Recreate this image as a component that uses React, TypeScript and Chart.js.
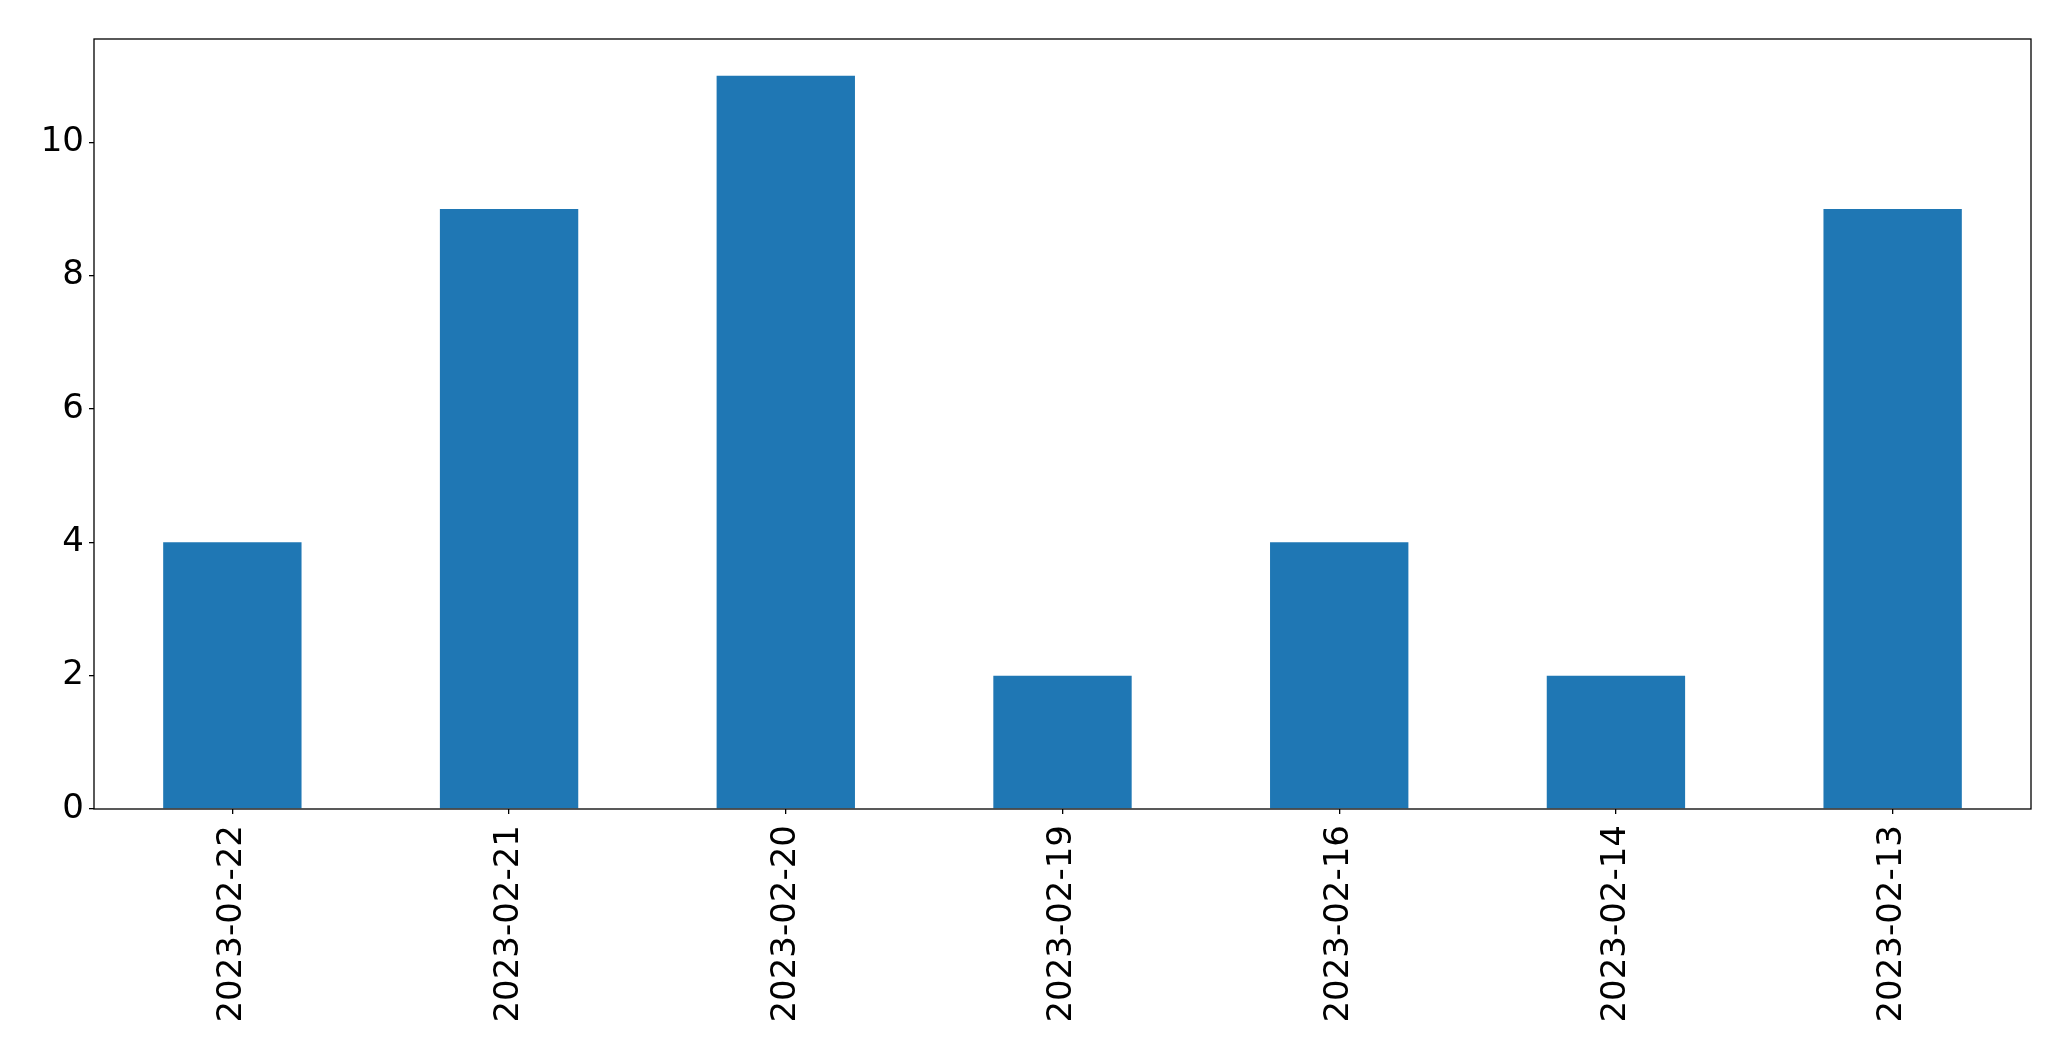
import React, { useEffect, useRef } from "react";
import { Chart, registerables } from "chart.js";

Chart.register(...registerables);

const categories = ["2023-02-22", "2023-02-21", "2023-02-20", "2023-02-19", "2023-02-16", "2023-02-14", "2023-02-13"];
const values = [4, 9, 11, 2, 4, 2, 9];
const yTicks = [0, 2, 4, 6, 8, 10];
const yMax = 11.55;

const W = 2071;
const H = 1061;

const framePlugin = {
  id: "frame",
  afterDraw(chart: any) {
    const { ctx, chartArea } = chart;
    ctx.save();
    ctx.strokeStyle = "#000";
    ctx.lineWidth = 1.3;
    ctx.strokeRect(chartArea.left, chartArea.top, chartArea.right - chartArea.left, chartArea.bottom - chartArea.top);
    ctx.restore();
  },
};

export default function App() {
  const ref = useRef<HTMLCanvasElement>(null);
  useEffect(() => {
    const font = { family: "'DejaVu Sans', sans-serif", size: 34 };
    const chart = new Chart(ref.current!, {
      type: "bar",
      data: {
        labels: categories,
        datasets: [
          {
            data: values,
            backgroundColor: "#1f77b4",
            borderWidth: 0,
            categoryPercentage: 1,
            barPercentage: 0.5,
          },
        ],
      },
      options: {
        responsive: false,
        animation: false,
        devicePixelRatio: 1,
        layout: { padding: { left: 0, top: 39, right: 40, bottom: 0 } },
        plugins: { legend: { display: false }, tooltip: { enabled: false } },
        scales: {
          x: {
            grid: { display: true, offset: false, drawOnChartArea: false, drawTicks: true, tickLength: 5, color: "#000", lineWidth: 1.3 },
            border: { display: false },
            ticks: { color: "#000", font, minRotation: 90, maxRotation: 90, autoSkip: false, padding: 11 },
            afterFit(scale: any) {
              scale.height = H - 809;
            },
          },
          y: {
            min: 0,
            max: yMax,
            grid: { display: true, drawOnChartArea: false, drawTicks: true, tickLength: 5, color: "#000", lineWidth: 1.3 },
            border: { display: false },
            ticks: { color: "#000", font, padding: 5 },
            afterBuildTicks(scale: any) {
              scale.ticks = yTicks.map((v) => ({ value: v }));
            },
            afterFit(scale: any) {
              scale.width = 94;
            },
          },
        },
      },
      plugins: [framePlugin],
    });
    return () => chart.destroy();
  }, []);
  return (
    <div style={{ position: "absolute", left: 0, top: 0, width: W, height: H, background: "#fff" }}>
      <canvas ref={ref} width={W} height={H} style={{ width: W, height: H }} />
    </div>
  );
}
